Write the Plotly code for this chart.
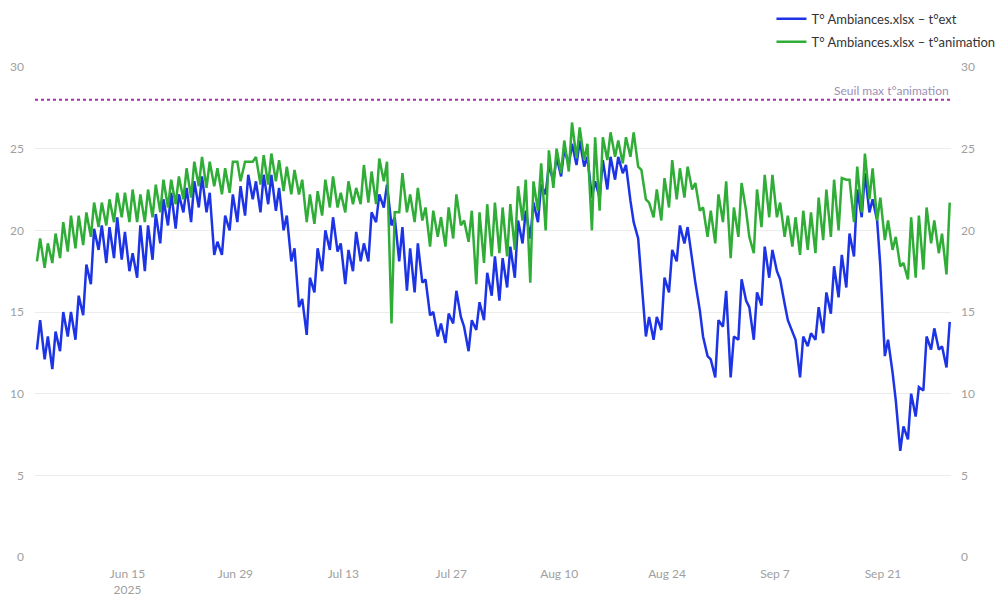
import pandas as pd
import plotly.graph_objects as go

start_date = "2025-06-03"
n_days = 119

# t°ext : daily low (early morning) and daily high (afternoon), °C
ext_low = [12.7, 12.1, 11.5, 12.6, 13.5, 13.3, 14.8, 16.7, 18.8, 18.0, 18.3, 18.2, 17.5, 17.1, 17.5, 18.2,
           19.2, 20.3, 20.1, 21.1, 20.5, 21.4, 21.1, 18.5,
           18.5, 20.0, 20.5, 20.9, 21.9, 21.1, 21.6, 21.2, 20.0, 18.1, 15.3, 13.6, 16.2, 17.5, 18.8, 18.7,
           16.7, 17.5, 18.1, 18.1, 20.5, 21.4, 20.3, 18.1,
           16.3, 16.2, 16.8, 14.8, 13.5, 13.1, 14.3, 14.7, 12.6, 13.9, 14.5, 16.0, 15.7, 16.5, 17.1, 19.2,
           19.5, 20.5, 22.2, 23.0, 23.3, 24.0, 24.0, 23.9, 22.0,
           22.0, 22.5, 23.1, 23.5, 21.8, 19.5, 13.5, 13.3, 13.9, 16.2, 18.1, 19.2, 18.0, 15.1, 12.3, 11.0,
           14.1, 11.0, 13.3, 15.7, 13.3, 15.4, 17.1,
           17.5, 15.5, 13.8, 11.0, 12.9, 13.3, 13.7, 14.9, 15.9, 16.5, 18.4, 20.8, 21.1, 20.6, 12.3, 11.3,
           6.5, 7.2, 8.6, 10.2, 12.7, 12.7, 11.6]
ext_high = [14.5, 13.5, 13.8, 15.0, 15.0, 16.0, 17.9, 20.1, 20.3, 20.2, 20.8, 19.9, 18.6, 20.3, 20.3, 21.0,
            21.9, 22.3, 22.2, 22.6, 23.0, 23.3, 22.3,
            19.3, 20.9, 22.2, 22.7, 23.4, 23.0, 23.4, 23.4, 22.6, 20.9, 18.9, 15.8, 17.1, 18.9, 20.0, 20.8,
            19.2, 18.8, 19.9, 19.2, 21.1, 22.2, 22.8, 20.8,
            20.2, 18.9, 19.2, 17.0, 15.0, 14.3, 14.9, 16.3, 14.1, 14.5, 15.6, 17.4, 18.4, 18.3, 19.0, 20.6,
            21.2, 21.7, 22.8, 24.0, 24.5, 25.0, 25.3, 25.5, 24.5,
            23.0, 24.3, 24.5, 24.5, 24.0, 20.5, 16.8, 14.7, 14.7, 17.1, 18.8, 20.3, 20.2, 16.8, 13.5, 12.1,
            14.5, 16.3, 13.5, 17.0, 15.3, 16.2, 19.0, 18.8,
            17.0, 14.5, 13.3, 13.5, 13.7, 15.3, 16.2, 17.8, 18.5, 19.8, 22.5, 23.5, 21.9, 17.8, 13.3, 9.6,
            8.0, 10.0, 10.4, 13.5, 14.0, 12.9, 14.4]

# t°animation : daily low and daily high, °C
anim_low = [18.1, 17.7, 18.0, 18.3, 18.7, 18.9, 19.1, 19.6, 20.2, 20.3, 20.5, 20.8, 20.5, 20.5, 20.5, 20.8,
            21.1, 21.4, 21.6, 21.9, 22.0, 22.7, 22.6, 22.7,
            22.2, 22.3, 24.2, 24.2, 24.2, 22.8, 22.8, 23.0, 22.4, 22.2, 22.2, 20.5, 20.4, 20.9, 21.4, 21.4,
            21.1, 21.6, 21.6, 21.7, 21.6, 23.0, 14.3, 21.1,
            21.1, 20.5, 20.6, 19.0, 19.6, 19.0, 19.5, 20.3, 19.3, 16.7, 18.0, 18.4, 18.6, 18.4, 18.8, 20.6,
            16.8, 21.2, 20.0, 22.6, 23.5, 23.6, 24.4, 24.3,
            20.0, 21.2, 24.3, 24.5, 24.1, 24.5, 23.9, 21.9, 20.8, 20.6, 21.4, 21.9, 22.0, 22.5, 21.2, 19.6,
            19.2, 20.5, 18.3, 19.6, 21.2, 18.6, 20.2, 20.8,
            20.8, 19.6, 19.0, 18.5, 18.8, 18.6, 19.4, 19.6, 20.0, 23.1, 20.5, 21.1, 21.9, 20.6, 19.4, 18.8,
            17.8, 17.0, 17.1, 17.6, 19.2, 18.6, 17.3]
anim_high = [19.5, 19.2, 19.8, 20.5, 20.9, 20.9, 21.1, 21.7, 21.7, 21.9, 22.3, 22.3, 22.5, 22.2, 22.5, 22.8,
             23.1, 23.1, 23.3, 23.8, 24.2, 24.5, 24.2, 23.8,
             23.8, 24.2, 23.0, 24.2, 24.5, 24.6, 24.7, 24.3, 23.9, 23.7, 23.1, 22.2, 22.4, 23.1, 23.3, 22.3,
             23.0, 22.6, 24.0, 23.6, 24.4, 24.2, 21.1, 23.5,
             22.2, 22.6, 21.4, 21.2, 20.8, 21.4, 22.2, 20.6, 21.2, 21.1, 21.6, 21.7, 21.4, 21.6, 22.7, 23.1,
             23.0, 24.1, 24.9, 25.0, 25.5, 26.6, 26.3, 25.3,
             25.7, 25.7, 26.0, 25.5, 25.7, 26.0, 23.7, 21.7, 22.5, 23.2, 24.3, 23.8, 23.9, 22.9, 21.4, 21.2,
             22.2, 23.0, 21.4, 22.9, 19.6, 22.5, 23.4, 23.4,
             21.7, 20.9, 20.8, 21.2, 21.1, 22.0, 22.5, 23.1, 23.2, 23.1, 23.9, 24.7, 23.8, 22.0, 20.6, 19.6,
             18.0, 20.8, 20.9, 21.4, 20.6, 19.8, 21.7]

threshold = 28
threshold_label = "Seuil max t°animation"
name_ext = "T° Ambiances.xlsx – t°ext"
name_anim = "T° Ambiances.xlsx – t°animation"

days = pd.date_range(start_date, periods=n_days, freq="D")
times, ext_vals, anim_vals = [], [], []
for i, d in enumerate(days):
    times += [d + pd.Timedelta(hours=6), d + pd.Timedelta(hours=16)]
    ext_vals += [ext_low[i], ext_high[i]]
    anim_vals += [anim_low[i], anim_high[i]]

FONT = "Lato, 'Source Sans Pro', sans-serif"
fig = go.Figure()
fig.add_trace(go.Scatter(x=times, y=ext_vals, mode="lines", name=name_ext, legendgroup="ext",
                         line=dict(color="#1c34e6", width=2.5), yaxis="y"))
fig.add_trace(go.Scatter(x=times, y=anim_vals, mode="lines", name=name_anim, legendgroup="anim",
                         line=dict(color="#2fad37", width=2.5), yaxis="y2"))

fig.add_hline(y=threshold, line=dict(color="#a92bb4", width=2, dash="dot"))
fig.add_annotation(x=1, xref="paper", y=threshold, yref="y", xanchor="right", yanchor="bottom",
                   text=threshold_label, showarrow=False,
                   font=dict(family=FONT, size=12, color="#9c90b4"))

axis_font = dict(family=FONT, size=12, color="#a0a0a0")
fig.update_layout(
    width=1007, height=590,
    margin=dict(l=27, r=64, t=59, b=41, autoexpand=False),
    paper_bgcolor="white", plot_bgcolor="white",
    font=dict(family=FONT, size=13, color="#444"),
    showlegend=True,
    legend=dict(xref="paper", yref="paper", x=1.054, xanchor="right", y=1.129, yanchor="top",
                traceorder="grouped", tracegroupgap=3,
                font=dict(family=FONT, size=13, color="#333"), bgcolor="rgba(0,0,0,0)"),
    xaxis=dict(type="date", range=[start_date, "2025-09-29 20:00"],
               tick0="2025-06-15", dtick=14 * 86400000, tickformat="%b %-d\n%Y",
               showgrid=False, zeroline=False, showline=False, tickfont=axis_font, ticks="",
               ticklabelstandoff=8),
    yaxis=dict(range=[0, 30], dtick=5, showgrid=True, gridcolor="#ececec", zeroline=False,
               tickfont=axis_font, ticklabelstandoff=10),
    yaxis2=dict(range=[0, 30], dtick=5, overlaying="y", side="right", showgrid=False, zeroline=False,
                tickfont=axis_font, ticklabelstandoff=9),
)
fig.write_html("out.html")
